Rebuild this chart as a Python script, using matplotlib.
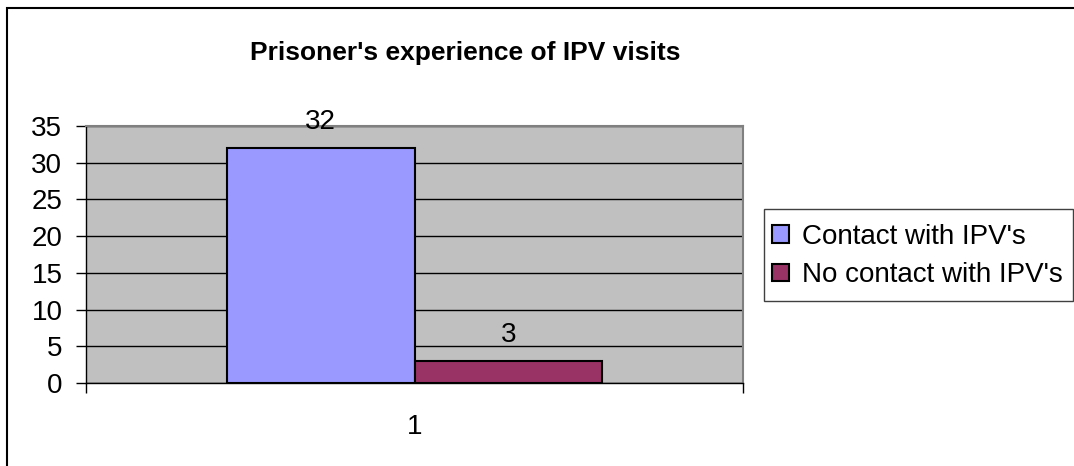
import matplotlib
matplotlib.use("Agg")
import matplotlib.pyplot as plt
from matplotlib.patches import Rectangle

plt.rcParams["font.family"] = ["Liberation Sans", "DejaVu Sans"]

# data
categories = ["1"]
series_names = ["Contact with IPV's", "No contact with IPV's"]
series_values = [32, 3]
colors = ["#9999FF", "#993366"]
title = "Prisoner's experience of IPV visits"

W, H = 1074, 466
fig = plt.figure(figsize=(W / 100, H / 100), dpi=100)
ax = fig.add_axes([86 / W, 1 - 383 / H, (743 - 86) / W, (383 - 126) / H])
ax.set_facecolor("#C0C0C0")

bar_w = 0.286
offsets = [-bar_w / 2, bar_w / 2]
for name, val, col, off in zip(series_names, series_values, colors, offsets):
    ax.bar(0 + off, val, width=bar_w, color=col, edgecolor="black",
           linewidth=1.5, label=name, zorder=3)
    ax.annotate(str(val), (0 + off, val), xytext=(0, 9.5), textcoords="offset points",
                ha="center", va="bottom", fontsize=20)

ax.set_xlim(-0.5, 0.5)
ax.set_ylim(0, 35)
ax.set_yticks(range(0, 36, 5))
ax.yaxis.grid(True, color="black", linewidth=1, zorder=1)
ax.set_axisbelow(True)
ax.tick_params(axis="y", labelsize=20, length=7, width=1, pad=10, direction="out")

# category boundary ticks + centred label
ax.set_xticks([-0.5, 0.5])
ax.set_xticklabels(["", ""])
ax.tick_params(axis="x", which="major", length=7, width=1, direction="out")
ax.set_xticks([0], minor=True)
ax.set_xticklabels(categories, minor=True)
ax.tick_params(axis="x", which="minor", length=0, labelsize=20, pad=22)

for s in ["top", "right"]:
    ax.spines[s].set_color("#808080")
    ax.spines[s].set_linewidth(1.5)
for s in ["left", "bottom"]:
    ax.spines[s].set_color("black")
    ax.spines[s].set_linewidth(1)

fig.text(465 / W, 1 - 53 / H, title, ha="center", va="center",
         fontsize=19, fontweight="bold")

# legend box drawn separately so the padding can differ per direction
fig.add_artist(Rectangle((764 / W, 1 - 301 / H), (1073 - 764) / W, (301 - 209) / H,
                         transform=fig.transFigure, fill=True, facecolor="white",
                         edgecolor="#404040", linewidth=1))
leg = fig.legend(loc="center left", bbox_to_anchor=(764 / W, 1 - 256 / H),
                 fontsize=20, frameon=False,
                 handlelength=0.6, handleheight=0.6, handletextpad=0.45,
                 borderpad=0.3, labelspacing=0.45, borderaxespad=0)
for h in leg.legend_handles:
    h.set_edgecolor("black")
    h.set_linewidth(1.5)

# outer chart border
fig.add_artist(Rectangle((7 / W, -0.1), 1.2, 1 - 8 / H + 0.1, transform=fig.transFigure,
                         fill=False, edgecolor="black", linewidth=1.5))

fig.savefig("out.png", dpi=100)
